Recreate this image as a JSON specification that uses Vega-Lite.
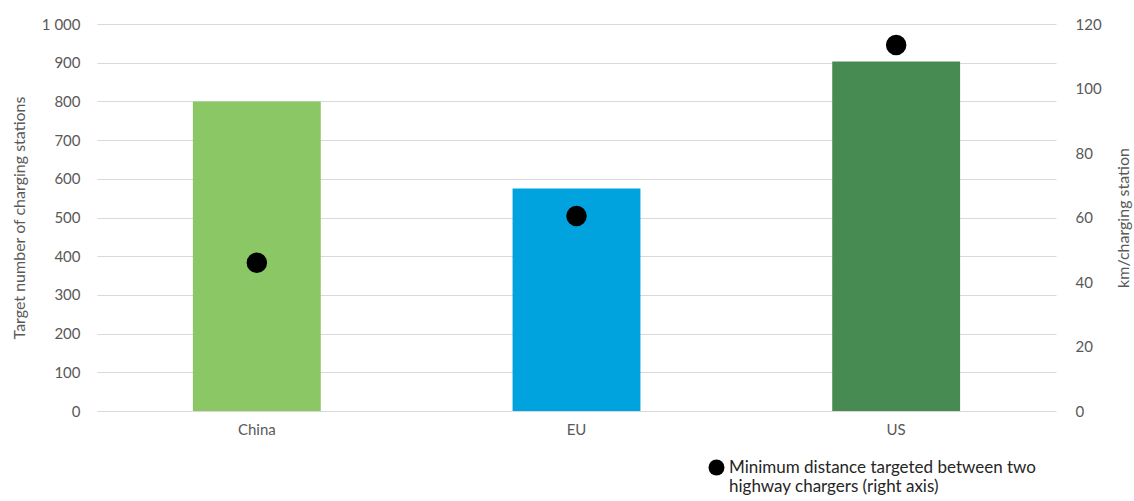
{
  "$schema": "https://vega.github.io/schema/vega-lite/v6.json",
  "autosize": "none",
  "width": 959,
  "height": 387,
  "padding": {"left": 97, "top": 24, "right": 78, "bottom": 90},
  "background": "white",
  "config": {
    "view": {"stroke": null},
    "font": "Lato",
    "axis": {"labelColor": "#595959", "titleColor": "#595959", "labelFont": "Lato", "titleFont": "Lato", "titleFontWeight": "normal", "domain": false, "ticks": false}
  },
  "data": {
    "values": [
      {"region": "China", "stations": 800, "distance": 46, "series": "Minimum distance targeted between two highway chargers (right axis)"},
      {"region": "EU", "stations": 575, "distance": 60.5, "series": "Minimum distance targeted between two highway chargers (right axis)"},
      {"region": "US", "stations": 903, "distance": 113.5, "series": "Minimum distance targeted between two highway chargers (right axis)"}
    ]
  },
  "encoding": {
    "x": {
      "field": "region", "type": "nominal", "sort": null,
      "scale": {"paddingInner": 0.6, "paddingOuter": 0.3},
      "axis": {"title": null, "labelAngle": 0, "labelFontSize": 15, "labelPadding": 11, "grid": false}
    }
  },
  "layer": [
    {
      "mark": {"type": "bar"},
      "encoding": {
        "y": {
          "field": "stations", "type": "quantitative",
          "scale": {"domain": [0, 1000], "nice": false},
          "axis": {"title": "Target number of charging stations", "titleFontSize": 16, "labelFontSize": 15, "values": [0,100,200,300,400,500,600,700,800,900,1000], "labelExpr": "replace(datum.label, ',', ' ')", "labelPadding": 17, "titlePadding": 14, "grid": true, "gridColor": "#D9D9D9", "gridWidth": 1.2}
        },
        "color": {
          "field": "region", "type": "nominal",
          "scale": {"domain": ["China", "EU", "US"], "range": ["#8CC765", "#00A3DE", "#478A52"]},
          "legend": null
        }
      }
    },
    {
      "mark": {"type": "point", "filled": true, "opacity": 1, "size": 420},
      "encoding": {
        "y": {
          "field": "distance", "type": "quantitative",
          "scale": {"domain": [0, 120], "nice": false},
          "axis": {"orient": "right", "title": "km/charging station", "titleAngle": 270, "titleFontSize": 16, "labelFontSize": 15, "values": [0,20,40,60,80,100,120], "labelPadding": 19, "titlePadding": 30, "grid": false}
        },
        "fill": {
          "field": "series", "type": "nominal",
          "scale": {"range": ["#000000"]},
          "legend": {
            "title": null, "orient": "none", "legendX": 611, "legendY": 435, "padding": 0,
            "symbolType": "circle", "symbolSize": 256, "symbolFillColor": "#000000", "symbolStrokeWidth": 0,
            "labelFontSize": 17, "labelColor": "#262626", "labelFont": "Lato", "labelLimit": 500, "labelOffset": 4,
            "labelExpr": "['Minimum distance targeted between two', 'highway chargers (right axis)']",
            "encode": {"labels": {"update": {"lineHeight": {"value": 24}}}}
          }
        }
      }
    }
  ],
  "resolve": {"scale": {"y": "independent", "color": "independent"}}
}
